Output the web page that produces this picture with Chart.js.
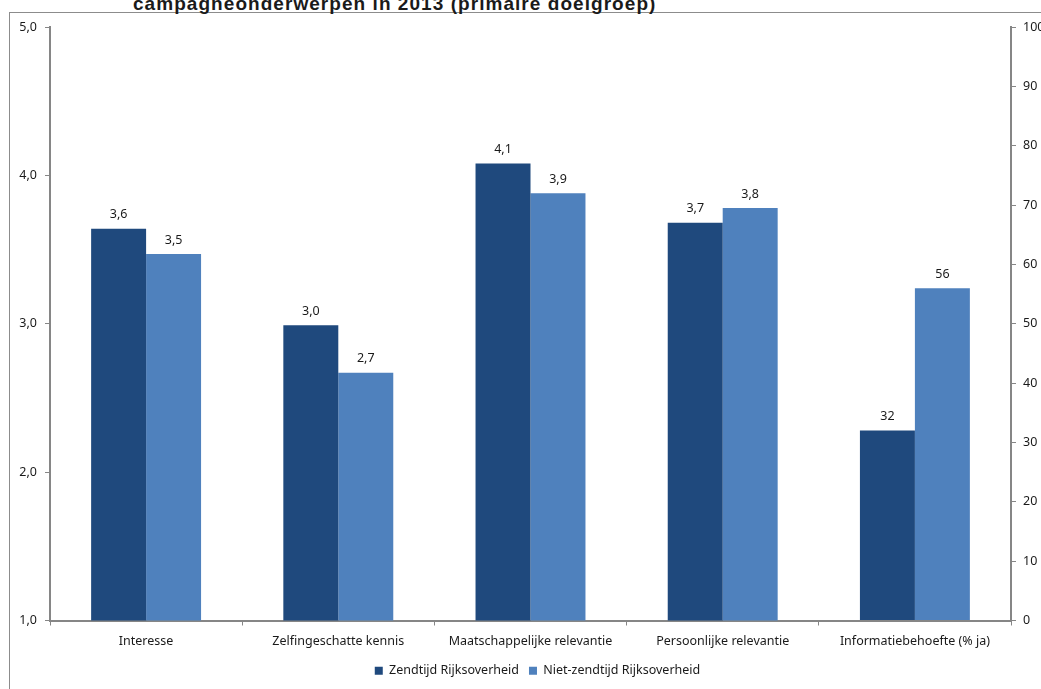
<!DOCTYPE html>
<html>
<head>
<meta charset="utf-8">
<script src="https://cdn.jsdelivr.net/npm/chart.js@4.4.1/dist/chart.umd.min.js"></script>
<style>
  html, body { margin: 0; padding: 0; background: #fff; overflow: hidden; }
  #wrap { position: relative; width: 1041px; height: 689px; }
  #frame {
    position: absolute; left: 9px; top: 12px; width: 1100px; height: 700px;
    border-top: 1px solid #8c8c8c; border-left: 1px solid #8c8c8c;
  }
  #titel {
    position: absolute; left: 133px; top: -7px; white-space: nowrap;
    font: bold 19px "Liberation Sans", Arial, sans-serif; letter-spacing: 1.05px; color: #1a1a1a;
  }
  canvas { position: absolute; left: 0; top: 0; }
</style>
</head>
<body>
<div id="wrap">
  <div id="frame"></div>
  <div id="titel">campagneonderwerpen in 2013 (primaire doelgroep)</div>
  <canvas id="grafiek" width="1041" height="689"></canvas>
</div>
<script>
// Categorieën en waarden
const categorieen = ['Interesse', 'Zelfingeschatte kennis', 'Maatschappelijke relevantie', 'Persoonlijke relevantie', 'Informatiebehoefte (% ja)'];
// Gemiddelde scores (linker as, 1-5); laatste categorie staat op de rechter as
const zendtijdScore = [3.64, 2.99, 4.08, 3.68, null];
const nietZendtijdScore = [3.47, 2.67, 3.88, 3.78, null];
// Percentage ja (rechter as, 0-100)
const zendtijdPct = [null, null, null, null, 32];
const nietZendtijdPct = [null, null, null, null, 56];

const series = ['Zendtijd Rijksoverheid', 'Niet-zendtijd Rijksoverheid'];
const kleuren = ['#1F497D', '#4F81BD'];

const linksTicks = [1, 2, 3, 4, 5];
const rechtsTicks = [0, 10, 20, 30, 40, 50, 60, 70, 80, 90, 100];

const asKleur = '#868686';
const tekstKleur = '#1a1a1a';
const lettertype = "'Noto Sans', 'Open Sans', sans-serif";

// Plugin die de waarden boven de staven zet
const waardeLabels = {
  id: 'waardeLabels',
  afterDatasetsDraw(chart) {
    const ctx = chart.ctx;
    ctx.save();
    ctx.fillStyle = tekstKleur;
    ctx.font = '12.5px ' + lettertype;
    ctx.textAlign = 'center';
    ctx.textBaseline = 'middle';
    chart.data.datasets.forEach((ds, i) => {
      const meta = chart.getDatasetMeta(i);
      meta.data.forEach((bar, j) => {
        const v = ds.data[j];
        if (v === null || v === undefined) return;
        const tekst = ds.yAxisID === 'y' ? v.toFixed(1).replace('.', ',') : String(Math.round(v));
        ctx.fillText(tekst, bar.x, bar.y - 14);
      });
    });
    ctx.restore();
  }
};

// Legenda iets naar rechts, net als in het origineel
const legendaVerschuiven = {
  id: 'legendaVerschuiven',
  afterLayout(chart) {
    if (chart.legend) {
      chart.legend.left += 17;
      chart.legend.right += 17;
    }
  }
};

new Chart(document.getElementById('grafiek'), {
  type: 'bar',
  data: {
    labels: categorieen,
    datasets: [
      { label: series[0], data: zendtijdScore, backgroundColor: kleuren[0], yAxisID: 'y' },
      { label: series[1], data: nietZendtijdScore, backgroundColor: kleuren[1], yAxisID: 'y' },
      { label: series[0], data: zendtijdPct, backgroundColor: kleuren[0], yAxisID: 'y1' },
      { label: series[1], data: nietZendtijdPct, backgroundColor: kleuren[1], yAxisID: 'y1' }
    ]
  },
  options: {
    responsive: false,
    animation: false,
    skipNull: true,
    barPercentage: 1,
    categoryPercentage: 0.572,
    layout: { padding: { top: 27, bottom: 2, left: 0, right: 0 } },
    plugins: {
      tooltip: { enabled: false },
      legend: {
        position: 'bottom',
        labels: {
          filter: item => item.datasetIndex < 2,
          boxWidth: 8,
          boxHeight: 8,
          padding: 10,
          color: tekstKleur,
          font: { family: lettertype, size: 12.5 }
        }
      }
    },
    scales: {
      x: {
        afterFit(s) { s.height = 34; },
        grid: { display: true, drawOnChartArea: false, drawTicks: true, tickLength: 5, color: asKleur, offset: true },
        border: { display: true, color: asKleur, width: 2 },
        ticks: { color: tekstKleur, padding: 8, font: { family: lettertype, size: 12.5 }, maxRotation: 0 }
      },
      y: {
        position: 'left',
        min: 1,
        max: 5,
        afterFit(s) { s.width = 50; },
        afterBuildTicks(s) { s.ticks = linksTicks.map(v => ({ value: v })); },
        grid: { display: true, drawOnChartArea: false, drawTicks: true, tickLength: 5, color: asKleur },
        border: { display: true, color: asKleur, width: 2 },
        ticks: {
          color: tekstKleur, padding: 8, font: { family: lettertype, size: 12.5 },
          callback: v => v.toFixed(1).replace('.', ',')
        }
      },
      y1: {
        position: 'right',
        min: 0,
        max: 100,
        afterFit(s) { s.width = 30; },
        afterBuildTicks(s) { s.ticks = rechtsTicks.map(v => ({ value: v })); },
        grid: { display: true, drawOnChartArea: false, drawTicks: true, tickLength: 5, color: asKleur },
        border: { display: true, color: asKleur, width: 2 },
        ticks: { color: tekstKleur, padding: 7, font: { family: lettertype, size: 12.5 } }
      }
    }
  },
  plugins: [waardeLabels, legendaVerschuiven]
});
</script>
</body>
</html>
